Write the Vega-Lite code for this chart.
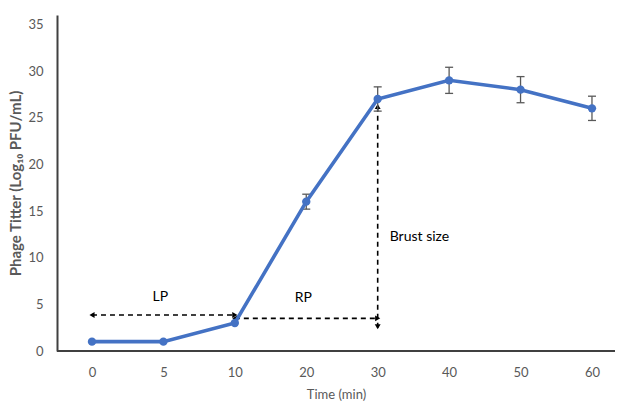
{
  "$schema": "https://vega.github.io/schema/vega-lite/v6.json",
  "autosize": {"type": "none"},
  "width": 558,
  "height": 336,
  "padding": {"left": 57, "top": 15, "right": 2, "bottom": 52},
  "background": "white",
  "config": {
    "view": {"stroke": null},
    "font": "Lato",
    "axis": {"labelFont": "Lato", "titleFont": "Lato", "labelColor": "#595959", "titleColor": "#595959", "labelFontSize": 13, "titleFontSize": 13}
  },
  "datasets": {
    "series": [
      {"time": 0, "titer": 1},
      {"time": 5, "titer": 1},
      {"time": 10, "titer": 3},
      {"time": 20, "titer": 16},
      {"time": 30, "titer": 27},
      {"time": 40, "titer": 29},
      {"time": 50, "titer": 28},
      {"time": 60, "titer": 26}
    ],
    "errors": [
      {"time": 20, "lo": 15.2, "hi": 16.8},
      {"time": 30, "lo": 25.7, "hi": 28.3},
      {"time": 40, "lo": 27.6, "hi": 30.4},
      {"time": 50, "lo": 26.6, "hi": 29.4},
      {"time": 60, "lo": 24.7, "hi": 27.3}
    ],
    "hArrows": [
      {"from": 0, "to": 10, "y": 3.85},
      {"from": 10, "to": 30, "y": 3.5}
    ],
    "vArrow": [{"time": 30, "lo": 2.5, "hi": 26.4}],
    "labels": [
      {"time": 5, "y": 5.8, "label": "LP"},
      {"time": 20, "y": 5.7, "label": "RP"}
    ],
    "brust": [{"time": 30, "y": 12.2, "label": "Brust size"}],
    "baseline": [{"y": 0}]
  },
  "encoding": {
    "x": {
      "field": "time",
      "type": "ordinal",
      "scale": {"domain": [0, 5, 10, 20, 30, 40, 50, 60], "type": "point", "padding": 0.406, "align": 0.603},
      "axis": {"title": "Time (min)", "titleFontWeight": "normal", "labelAngle": 0, "ticks": false, "labelPadding": 15, "titlePadding": 9, "domain": false, "grid": false}
    }
  },
  "layer": [
    {
      "data": {"name": "baseline"},
      "mark": {"type": "rule", "color": "#404040", "strokeWidth": 2},
      "encoding": {"x": null, "y": {"field": "y", "type": "quantitative"}}
    },
    {
      "data": {"name": "hArrows"},
      "mark": {"type": "rule", "strokeDash": [5, 4], "strokeWidth": 1.6, "color": "black"},
      "encoding": {
        "x": {"field": "from", "type": "ordinal"},
        "x2": {"field": "to"},
        "y": {"field": "y", "type": "quantitative"}
      }
    },
    {
      "data": {"name": "vArrow"},
      "mark": {"type": "rule", "strokeDash": [5, 4], "strokeWidth": 1.6, "color": "black"},
      "encoding": {
        "y": {"field": "lo", "type": "quantitative"},
        "y2": {"field": "hi"}
      }
    },
    {
      "data": {"values": [{"time": 0, "y": 3.85}]},
      "mark": {"type": "point", "shape": "triangle-left", "filled": true, "color": "black", "size": 35, "opacity": 1, "dx": -4},
      "encoding": {"y": {"field": "y", "type": "quantitative"}}
    },
    {
      "data": {"values": [{"time": 10, "y": 3.85}]},
      "mark": {"type": "point", "shape": "triangle-right", "filled": true, "color": "black", "size": 35, "opacity": 1, "dx": -8},
      "encoding": {"y": {"field": "y", "type": "quantitative"}}
    },
    {
      "data": {"values": [{"time": 10, "y": 3.5}]},
      "mark": {"type": "point", "shape": "triangle-left", "filled": true, "color": "black", "size": 35, "opacity": 1, "dx": 9},
      "encoding": {"y": {"field": "y", "type": "quantitative"}}
    },
    {
      "data": {"values": [{"time": 30, "y": 3.5}]},
      "mark": {"type": "point", "shape": "triangle-right", "filled": true, "color": "black", "size": 35, "opacity": 1, "dx": -15},
      "encoding": {"y": {"field": "y", "type": "quantitative"}}
    },
    {
      "data": {"values": [{"time": 30, "y": 26.2}]},
      "mark": {"type": "point", "shape": "triangle-up", "filled": true, "color": "black", "size": 35, "opacity": 1},
      "encoding": {"y": {"field": "y", "type": "quantitative"}}
    },
    {
      "data": {"values": [{"time": 30, "y": 2.6}]},
      "mark": {"type": "point", "shape": "triangle-down", "filled": true, "color": "black", "size": 35, "opacity": 1},
      "encoding": {"y": {"field": "y", "type": "quantitative"}}
    },
    {
      "data": {"name": "errors"},
      "mark": {"type": "rule", "color": "#595959", "strokeWidth": 1.3},
      "encoding": {
        "y": {"field": "lo", "type": "quantitative"},
        "y2": {"field": "hi"}
      }
    },
    {
      "data": {"name": "errors"},
      "mark": {"type": "tick", "color": "#595959", "thickness": 1.3, "size": 8, "opacity": 1},
      "encoding": {"y": {"field": "lo", "type": "quantitative"}}
    },
    {
      "data": {"name": "errors"},
      "mark": {"type": "tick", "color": "#595959", "thickness": 1.3, "size": 8, "opacity": 1},
      "encoding": {"y": {"field": "hi", "type": "quantitative"}}
    },
    {
      "data": {"name": "series"},
      "mark": {"type": "line", "color": "#4472C4", "strokeWidth": 3.6, "point": {"filled": true, "size": 70, "color": "#4472C4", "opacity": 1}},
      "encoding": {
        "y": {
          "field": "titer",
          "type": "quantitative",
          "scale": {"domain": [0, 36], "nice": false, "zero": true},
          "axis": {
            "title": "Phage Titter (Log₁₀ PFU/mL)",
            "titleFontWeight": "bold",
            "titleFontSize": 15,
            "values": [0, 5, 10, 15, 20, 25, 30, 35],
            "ticks": false,
            "grid": false,
            "labelPadding": 14,
            "titlePadding": 4,
            "domainColor": "#404040",
            "domainWidth": 2
          }
        }
      }
    },
    {
      "data": {"name": "labels"},
      "mark": {"type": "text", "fontSize": 14, "color": "black", "font": "Lato", "dx": -3},
      "encoding": {
        "y": {"field": "y", "type": "quantitative"},
        "text": {"field": "label"}
      }
    },
    {
      "data": {"name": "brust"},
      "mark": {"type": "text", "fontSize": 14, "color": "black", "font": "Lato", "align": "left", "dx": 12},
      "encoding": {
        "y": {"field": "y", "type": "quantitative"},
        "text": {"field": "label"}
      }
    }
  ]
}
